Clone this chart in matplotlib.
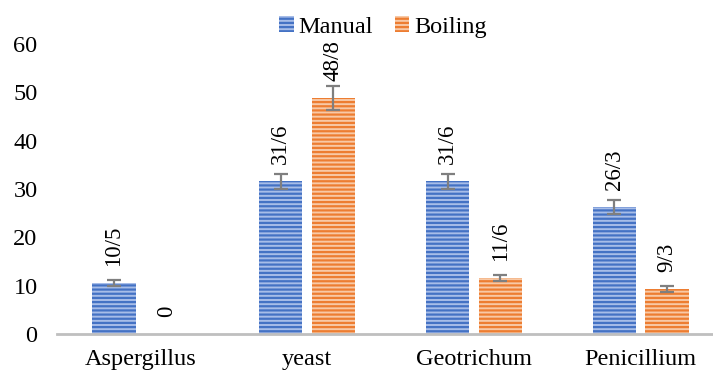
import matplotlib
matplotlib.use("Agg")
import matplotlib.pyplot as plt
import numpy as np

categories = ["Aspergillus", "yeast", "Geotrichum", "Penicillium"]
manual = [10.5, 31.6, 31.6, 26.3]
boiling = [0.0, 48.8, 11.6, 9.3]
manual_err = [0.6, 1.5, 1.6, 1.4]
boiling_err = [0.0, 2.5, 0.65, 0.6]
yticks = [0, 10, 20, 30, 40, 50, 60]

plt.rcParams['font.family'] = ['Liberation Serif', 'DejaVu Serif']
plt.rcParams['hatch.linewidth'] = 1.6

fig = plt.figure(figsize=(7.13, 3.72), dpi=100)
ax = fig.add_axes([57/713, 38/372, 1 - 57/713, (334-44)/372])

x = np.arange(len(categories))
w = 0.26
off = 0.158

series = [
    (manual, manual_err, -off, '#a7bde8', '#4472C4', 'Manual'),
    (boiling, boiling_err, off, '#f8c9a6', '#ED7D31', 'Boiling'),
]
for vals, errs, o, fc, hc, name in series:
    ax.bar(x + o, vals, w, color=fc, edgecolor=hc, hatch='----', linewidth=0, label=name)
    for xi, v, e in zip(x + o, vals, errs):
        if e > 0:
            ax.errorbar(xi, v, yerr=e, fmt='none', ecolor='#7f7f7f', elinewidth=1.6,
                        capsize=5, capthick=1.6)
        ax.annotate(f"{v:g}".replace('.', '/'), (xi, v), xytext=(0, 12.5),
                    textcoords='offset points', rotation=90, ha='center', va='bottom',
                    fontsize=16.5)

ax.set_xlim(-0.5, 3.5 - 11/167)
ax.set_ylim(0, 60)
ax.set_yticks(yticks)
ax.set_xticks(x)
ax.set_xticklabels(categories)
ax.tick_params(axis='both', length=0, labelsize=17.5)
ax.tick_params(axis='y', pad=14)
ax.tick_params(axis='x', pad=11)
for s in ['top', 'right', 'left']:
    ax.spines[s].set_visible(False)
ax.spines['bottom'].set_color('#bfbfbf')
ax.spines['bottom'].set_linewidth(2)

fig.legend(loc='center', bbox_to_anchor=(383/713, 1 - 27/372), ncol=2, frameon=False,
           fontsize=17.5, handlelength=0.6, handleheight=0.6, handletextpad=0.2,
           columnspacing=0.9)

fig.savefig("out.png", dpi=100)
